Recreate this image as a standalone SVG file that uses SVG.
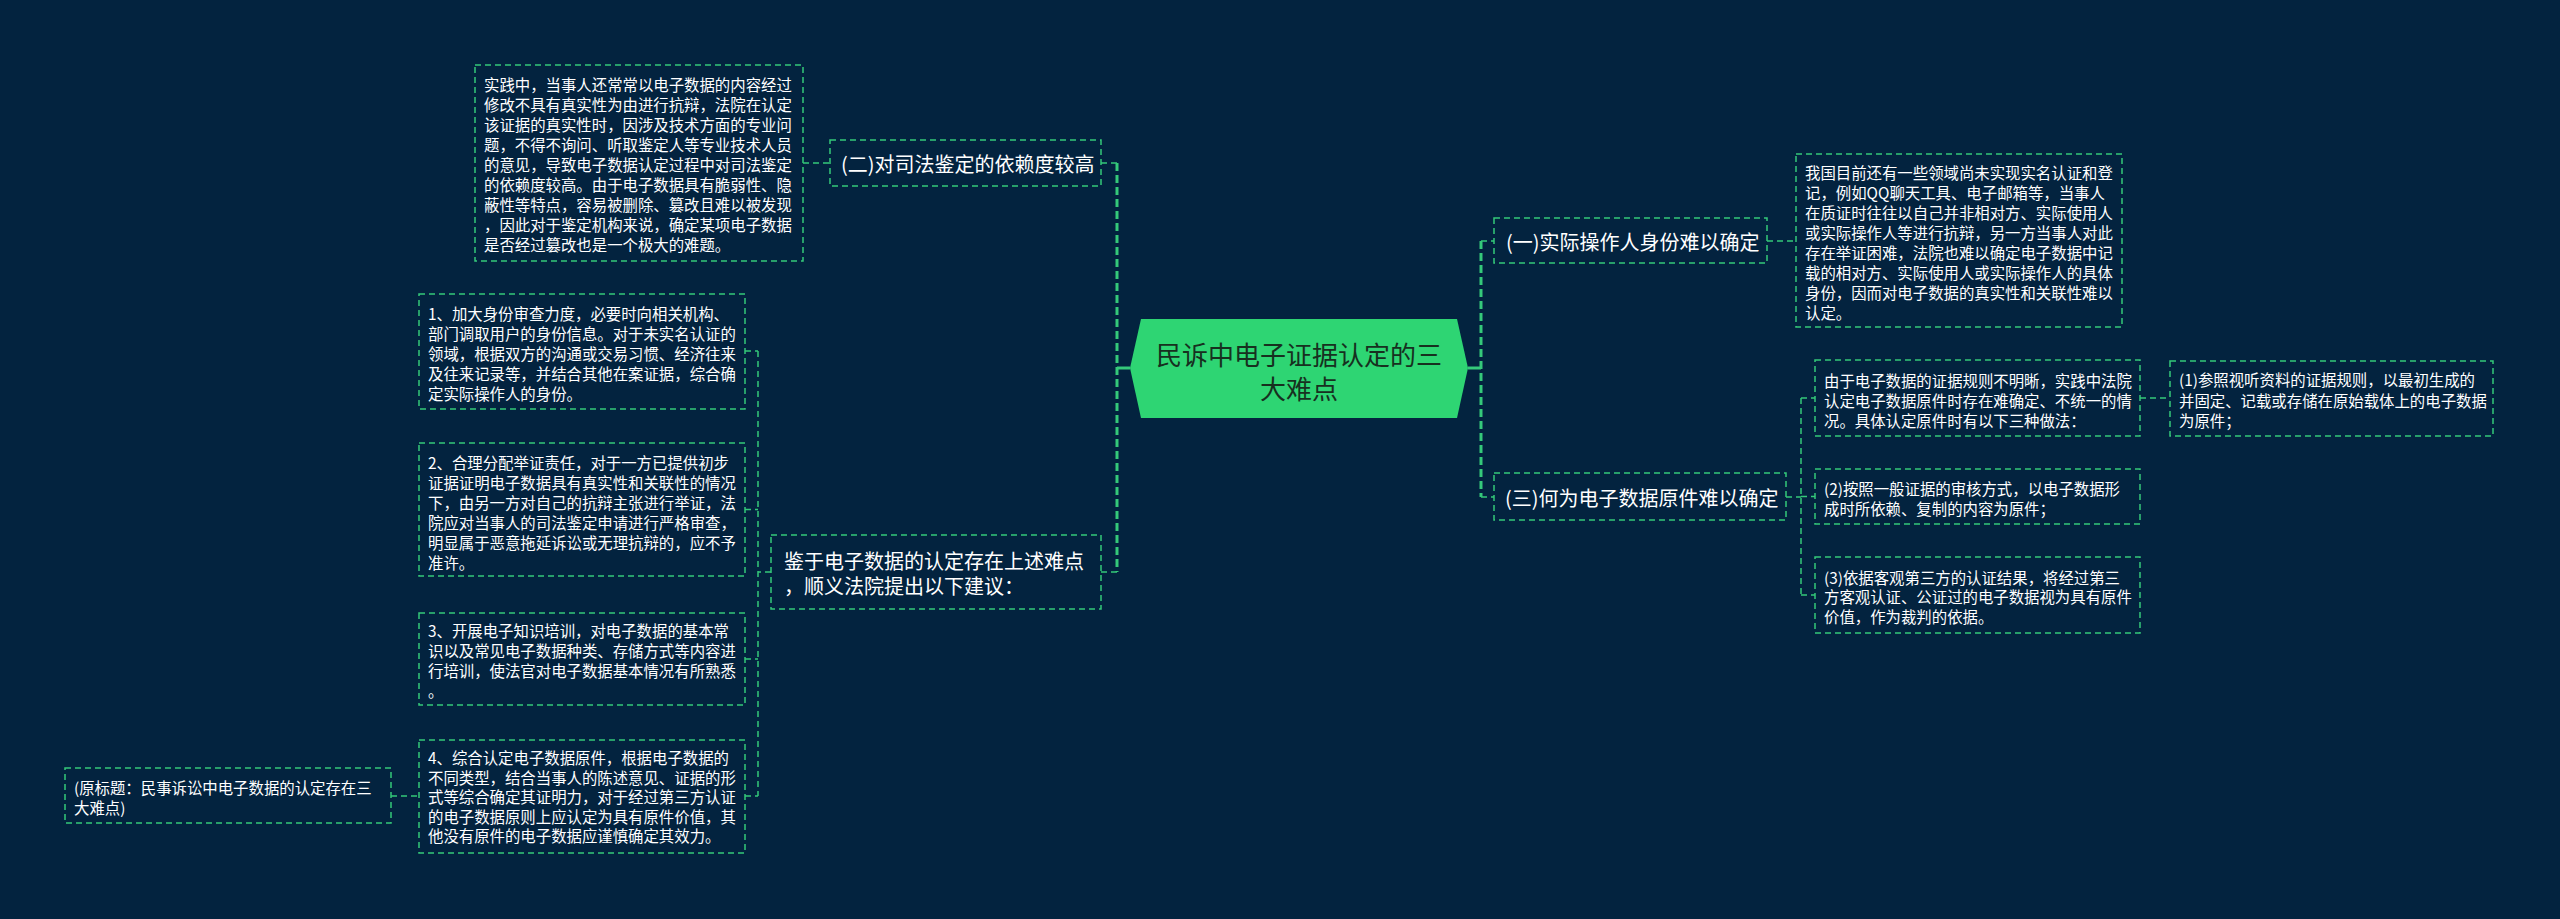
<svg xmlns="http://www.w3.org/2000/svg" width="2560" height="919" viewBox="0 0 2560 919">
<style>
.box{fill:#03233f;stroke:#35c97a;stroke-width:1.5;stroke-dasharray:6 4}
.t{font-family:"Noto Sans CJK SC","Noto Sans",sans-serif;font-size:15.4px;fill:#ffffff;dominant-baseline:central}
.tm{font-size:20px}
.root{fill:#2ed573}
.rt{font-family:"Noto Sans CJK SC","Noto Sans",sans-serif;font-size:26px;fill:#17301f;dominant-baseline:central;text-anchor:middle}
.c{fill:none;stroke:#35c97a;stroke-width:1.5;stroke-dasharray:6 4}
.bus{fill:none;stroke:#35c97a;stroke-width:3;stroke-dasharray:8 4}
.solid{fill:none;stroke:#35c97a;stroke-width:3}
</style>
<rect width="2560" height="919" fill="#03233f"/>
<g id="connectors">
<path class="solid" d="M1130 368H1117M1468 368H1481"/>
<path class="bus" d="M1117 163V572M1481 241V497"/>
<path class="c" d="M1101 163H1117M1101 572H1117M803 163H830"/>
<path class="c" d="M771 572H758M758 351V796M745 351H758M745 509.5H758M745 659H758M745 796H758M391 796H419"/>
<path class="c" d="M1481 241H1494M1481 497H1494M1767 241H1796"/>
<path class="c" d="M1786 497H1801M1801 398V595M1801 398H1815M1801 496.5H1815M1801 595H1815M2140 398H2170"/>
</g>
<g id="root">
<polygon class="root" points="1130,368 1141,319 1457,319 1468,368 1457,418 1141,418"/>
<text class="rt" x="1299" y="353">民诉中电子证据认定的三</text>
<text class="rt" x="1299" y="387">大难点</text>
</g>
<g id="n2">
<rect class="box" x="830" y="140" width="271" height="46"/>
<text class="t tm" x="841" y="163">(二)对司法鉴定的依赖度较高</text>
</g>
<g id="n2-detail">
<rect class="box" x="475" y="65" width="328" height="196"/>
<text class="t" x="484"><tspan x="484" y="84">实践中，当事人还常常以电子数据的内容经过</tspan><tspan x="484" y="104">修改不具有真实性为由进行抗辩，法院在认定</tspan><tspan x="484" y="124">该证据的真实性时，因涉及技术方面的专业问</tspan><tspan x="484" y="144">题，不得不询问、听取鉴定人等专业技术人员</tspan><tspan x="484" y="164">的意见，导致电子数据认定过程中对司法鉴定</tspan><tspan x="484" y="184">的依赖度较高。由于电子数据具有脆弱性、隐</tspan><tspan x="484" y="204">蔽性等特点，容易被删除、篡改且难以被发现</tspan><tspan x="484" y="224">，因此对于鉴定机构来说，确定某项电子数据</tspan><tspan x="484" y="244">是否经过篡改也是一个极大的难题。</tspan></text>
</g>
<g id="n4">
<rect class="box" x="771" y="535" width="330" height="74"/>
<text class="t tm" x="784"><tspan x="784" y="560">鉴于电子数据的认定存在上述难点</tspan><tspan x="784" y="585">，顺义法院提出以下建议：</tspan></text>
</g>
<g id="s1">
<rect class="box" x="419" y="294" width="326" height="115"/>
<text class="t"><tspan x="428" y="313">1、加大身份审查力度，必要时向相关机构、</tspan><tspan x="428" y="333">部门调取用户的身份信息。对于未实名认证的</tspan><tspan x="428" y="353">领域，根据双方的沟通或交易习惯、经济往来</tspan><tspan x="428" y="373">及往来记录等，并结合其他在案证据，综合确</tspan><tspan x="428" y="393">定实际操作人的身份。</tspan></text>
</g>
<g id="s2">
<rect class="box" x="419" y="443" width="326" height="133"/>
<text class="t"><tspan x="428" y="462">2、合理分配举证责任，对于一方已提供初步</tspan><tspan x="428" y="482">证据证明电子数据具有真实性和关联性的情况</tspan><tspan x="428" y="502">下，由另一方对自己的抗辩主张进行举证，法</tspan><tspan x="428" y="522">院应对当事人的司法鉴定申请进行严格审查，</tspan><tspan x="428" y="542">明显属于恶意拖延诉讼或无理抗辩的，应不予</tspan><tspan x="428" y="562">准许。</tspan></text>
</g>
<g id="s3">
<rect class="box" x="419" y="613" width="326" height="92"/>
<text class="t"><tspan x="428" y="630">3、开展电子知识培训，对电子数据的基本常</tspan><tspan x="428" y="650">识以及常见电子数据种类、存储方式等内容进</tspan><tspan x="428" y="670">行培训，使法官对电子数据基本情况有所熟悉</tspan><tspan x="428" y="690">。</tspan></text>
</g>
<g id="s4">
<rect class="box" x="419" y="740" width="326" height="113"/>
<text class="t"><tspan x="428" y="757">4、综合认定电子数据原件，根据电子数据的</tspan><tspan x="428" y="776.5">不同类型，结合当事人的陈述意见、证据的形</tspan><tspan x="428" y="796">式等综合确定其证明力，对于经过第三方认证</tspan><tspan x="428" y="815.5">的电子数据原则上应认定为具有原件价值，其</tspan><tspan x="428" y="835">他没有原件的电子数据应谨慎确定其效力。</tspan></text>
</g>
<g id="orig">
<rect class="box" x="65" y="768" width="326" height="55"/>
<text class="t"><tspan x="74" y="787">(原标题：民事诉讼中电子数据的认定存在三</tspan><tspan x="74" y="807">大难点)</tspan></text>
</g>
<g id="n1">
<rect class="box" x="1494" y="218" width="273" height="45"/>
<text class="t tm" x="1506" y="241">(一)实际操作人身份难以确定</text>
</g>
<g id="n1-detail">
<rect class="box" x="1796" y="154" width="326" height="173"/>
<text class="t"><tspan x="1805" y="172">我国目前还有一些领域尚未实现实名认证和登</tspan><tspan x="1805" y="192">记，例如QQ聊天工具、电子邮箱等，当事人</tspan><tspan x="1805" y="212">在质证时往往以自己并非相对方、实际使用人</tspan><tspan x="1805" y="232">或实际操作人等进行抗辩，另一方当事人对此</tspan><tspan x="1805" y="252">存在举证困难，法院也难以确定电子数据中记</tspan><tspan x="1805" y="272">载的相对方、实际使用人或实际操作人的具体</tspan><tspan x="1805" y="292">身份，因而对电子数据的真实性和关联性难以</tspan><tspan x="1805" y="312">认定。</tspan></text>
</g>
<g id="n3">
<rect class="box" x="1494" y="473" width="292" height="47"/>
<text class="t tm" x="1505" y="497">(三)何为电子数据原件难以确定</text>
</g>
<g id="n3-a">
<rect class="box" x="1815" y="360" width="325" height="76"/>
<text class="t"><tspan x="1824" y="380">由于电子数据的证据规则不明晰，实践中法院</tspan><tspan x="1824" y="400">认定电子数据原件时存在难确定、不统一的情</tspan><tspan x="1824" y="420">况。具体认定原件时有以下三种做法：</tspan></text>
</g>
<g id="n3-a1">
<rect class="box" x="2170" y="361" width="323" height="75"/>
<text class="t"><tspan x="2179" y="379">(1)参照视听资料的证据规则，以最初生成的</tspan><tspan x="2179" y="400">并固定、记载或存储在原始载体上的电子数据</tspan><tspan x="2179" y="420">为原件；</tspan></text>
</g>
<g id="n3-b">
<rect class="box" x="1815" y="469" width="325" height="55"/>
<text class="t"><tspan x="1824" y="488">(2)按照一般证据的审核方式，以电子数据形</tspan><tspan x="1824" y="508">成时所依赖、复制的内容为原件；</tspan></text>
</g>
<g id="n3-c">
<rect class="box" x="1815" y="557" width="325" height="76"/>
<text class="t"><tspan x="1824" y="577">(3)依据客观第三方的认证结果，将经过第三</tspan><tspan x="1824" y="596">方客观认证、公证过的电子数据视为具有原件</tspan><tspan x="1824" y="616">价值，作为裁判的依据。</tspan></text>
</g>
</svg>
